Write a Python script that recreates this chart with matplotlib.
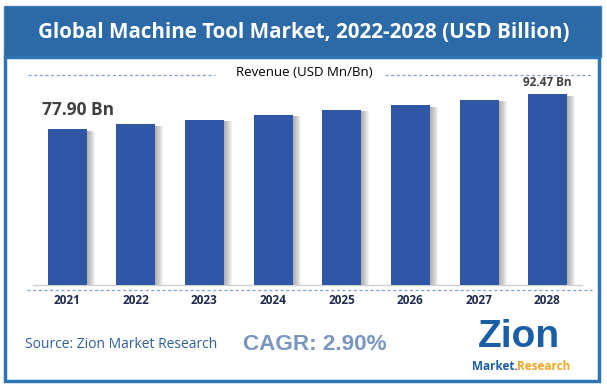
import matplotlib
matplotlib.use("Agg")
import matplotlib.pyplot as plt
from matplotlib.patches import Rectangle
from matplotlib.lines import Line2D

years = ["2021", "2022", "2023", "2024", "2025", "2026", "2027", "2028"]
revenue = [77.90, 79.9, 81.7, 83.8, 85.9, 87.9, 90.0, 92.47]
first_label = "77.90 Bn"
last_label = "92.47 Bn"

W, H = 607, 387
fig = plt.figure(figsize=(W / 100, H / 100), dpi=100)
fig.patch.set_facecolor("white")


def fx(px):
    return px / W


def fy(py):
    return 1 - py / H


# title banner
fig.patches.append(Rectangle((fx(4), fy(57)), fx(597), 51 / H, transform=fig.transFigure,
                             facecolor="#2b6aa6", edgecolor="#3d7bbf", lw=1, zorder=1))
fig.text(fx(304), fy(32), "Global Machine Tool Market, 2022-2028 (USD Billion)",
         color="white", fontsize=14.9, fontweight="bold", family="Open Sans",
         ha="center", va="center")

# outer frame
fig.patches.append(Rectangle((fx(5), fy(381)), fx(594), 324 / H, transform=fig.transFigure,
                             facecolor="none", edgecolor="#2e75b6", lw=2.5, zorder=1))

# legend title with dashed lines
fig.text(fx(304), fy(72), "Revenue (USD Mn/Bn)", fontsize=9.5, family="Open Sans",
         ha="center", va="center", color="black")
for x0, x1 in [(28, 215), (385, 592)]:
    fig.lines.append(Line2D([fx(x0), fx(x1)], [fy(75), fy(75)], transform=fig.transFigure,
                            color="#7ea1d8", lw=0.9, ls=(0, (2.5, 2))))
fig.lines.append(Line2D([fx(27), fx(592)], [fy(290), fy(290)], transform=fig.transFigure,
                        color="#7ea1d8", lw=0.9, ls=(0, (2.5, 2))))

# bar chart
ax = fig.add_axes([fx(33), fy(285), fx(549), 200 / H])
x = list(range(len(years)))
bw = 0.569
px = 1 / 68.57
for k in range(1, 9):
    ax.bar([i + k * px for i in x], [v - 0.6 for v in revenue], width=bw, color="#555555",
           alpha=0.07, zorder=1, bottom=0)
ax.bar(x, revenue, width=bw, color="#3057a6", zorder=3)
ax.set_xlim(-0.5, 7.5)
ax.set_ylim(13, 96.26)
for s in ["top", "right", "left"]:
    ax.spines[s].set_visible(False)
ax.spines["bottom"].set_color("#d0d0d0")
ax.spines["bottom"].set_linewidth(1)
ax.set_yticks([])
ax.set_xticks([])
ax.patch.set_alpha(0)

for i, yr in enumerate(years):
    fig.text(fx(67.2 + 68.57 * i), fy(300), yr, fontsize=8.5, fontweight="bold",
             family="Open Sans", color="#1f2a4f", ha="center", va="center")

fig.text(fx(78), fy(110), first_label, fontsize=12.5, fontweight="bold", family="Open Sans",
         color="#404040", ha="center", va="center")
fig.text(fx(547), fy(83), last_label, fontsize=8.5, fontweight="bold", family="Open Sans",
         color="#404040", ha="center", va="center")

# footer
fig.text(fx(25), fy(345), "Source: Zion Market Research", fontsize=10, family="Open Sans",
         color="#2e5f9a", ha="left", va="center")
fig.text(fx(243), fy(345), "CAGR: 2.90%", fontsize=16.2, fontweight="bold", family="Liberation Sans",
         color="#7a96c0", ha="left", va="center")

# logo
fig.text(fx(519), fy(337), "Zion", fontsize=28, fontweight="bold", family="Liberation Sans",
         color="#1b5ea8", ha="center", va="center")
fig.text(fx(472), fy(366), "Market.", fontsize=8.5, fontweight="bold", family="Open Sans",
         color="#1b5ea8", ha="left", va="center")
fig.text(fx(517), fy(366), "Research", fontsize=8.5, fontweight="bold", family="Open Sans",
         color="#f5a623", ha="left", va="center")

fig.savefig("out.png", dpi=100)
